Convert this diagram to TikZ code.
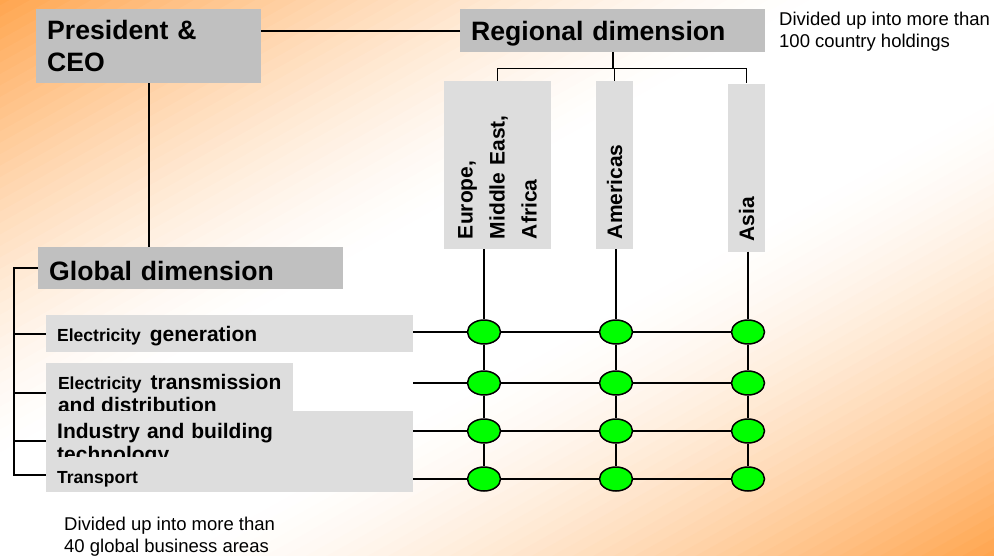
\documentclass[tikz,border=0pt]{standalone}
\usepackage{fontspec}
\setmainfont{Liberation Sans}
\usetikzlibrary{shapes.geometric}
\definecolor{bgorange}{HTML}{FFA54E}
\definecolor{boxdark}{HTML}{C0C0C0}
\definecolor{boxlight}{HTML}{DDDDDD}
\definecolor{hubgreen}{HTML}{00FF00}
\begin{document}
\begin{tikzpicture}[x=1pt,y=-1pt,
    darkbox/.style={fill=boxdark,anchor=north west,inner xsep=11pt,inner ysep=0pt,align=left,font=\bfseries\fontsize{26.6}{32}\selectfont},
    lightbox/.style={fill=boxlight,anchor=north west,inner xsep=11pt,inner ysep=0pt,align=left,font=\bfseries\fontsize{21}{23}\selectfont},
    regionbox/.style={fill=boxlight,rotate=90,inner xsep=10pt,inner ysep=0pt,text width=148pt,align=left,font=\bfseries\fontsize{21}{32}\selectfont},
    hub/.style={ellipse,draw,fill=hubgreen,line width=1.5pt,minimum width=33pt,minimum height=24pt,inner sep=0pt},
    note/.style={anchor=north west,inner sep=0pt,align=left,font=\fontsize{18.5}{22}\selectfont},
    link/.style={line width=1.8pt}]
  \useasboundingbox (0,0) rectangle (994,555);
  % background: orange corners, white band along the other diagonal
  \begin{scope}
    \clip (0,0) rectangle (994,555);
    \foreach \i in {0,...,99}{
      \pgfmathsetmacro{\ta}{-500+10*\i}
      \pgfmathsetmacro{\tb}{\ta+10.6}
      \pgfmathsetmacro{\u}{max(abs(\ta+5)-80,0.01)}
      \pgfmathsetmacro{\p}{min(100,100*(\u/405)^1.5)}
      \fill[bgorange!\p!white] ({497+0.488*\ta-611},{277.5+0.873*\ta+341.6}) -- ({497+0.488*\tb-611},{277.5+0.873*\tb+341.6})
        -- ({497+0.488*\tb+611},{277.5+0.873*\tb-341.6}) -- ({497+0.488*\ta+611},{277.5+0.873*\ta-341.6}) -- cycle;
    }
  \end{scope}

  \node[darkbox,text width=203pt,minimum height=74pt] (pres) at (36,9) {President \&\\CEO};
  \node[darkbox,text width=283pt,minimum height=43pt,text depth=0pt] (reg) at (460,9) {Regional dimension};
  \node[darkbox,text width=283pt,minimum height=42pt,text depth=0pt,text height=24pt] (glob) at (38,247) {Global dimension};
  \node[note] (regnote) at (779,12) {Divided up into more than\\100 country holdings};
  \node[note] (globnote) at (64,517) {Divided up into more than\\40 global business areas};

  \node[regionbox,minimum height=107pt] (emea) at (497.5,165) {Europe,\\Middle East,\\Africa};
  \node[regionbox,minimum height=37pt] (amer) at (614.5,165) {Americas};
  \node[regionbox,minimum height=37pt] (asia) at (746.5,167.5) {Asia};

  \node[lightbox,text width=345pt,minimum height=37pt,text depth=0pt] (b1) at (46,315) {{\fontsize{17.5}{23}\selectfont Electricity}\hspace{9pt}generation};
  \node[lightbox,minimum width=247pt,minimum height=60pt] (b2) at (46,363) {{\fontsize{17.5}{23}\selectfont Electricity}\hspace{9pt}transmission\\and distribution};
  \node[lightbox,text width=345pt,minimum height=60pt,text height=23pt] (b3) at (46,411) {Industry and building\\technology};
  \node[lightbox,text width=345pt,minimum height=35pt,text depth=0pt,text height=17pt] (b4) at (46,457) {{\fontsize{17.5}{23}\selectfont Transport}};

  \foreach \r/\y in {1/332,2/383,3/431,4/479}
    \foreach \c/\x in {1/484,2/616,3/748}
      \node[hub] (h\r\c) at (\x,\y) {};

  \draw[link] (reg.west) -- (reg.west -| pres.east);
  \draw[link] (pres.south) -- (glob.north -| pres.south);
  \draw[link] (reg.south) -- ++(0,16) coordinate (rj);
  \draw[link] (emea.east) |- (rj) -| (asia.east);
  \draw[link] (amer.east) -- (amer.east |- rj);

  \draw[link] (glob.west) -- ++(-24,0) coordinate (gl) |- (b4.west);
  \foreach \b in {b1,b2,b3}
    \draw[link] (gl |- \b.west) -- (\b.west);

  \foreach \c/\reg in {1/emea,2/amer,3/asia}
    \draw[link] (h1\c |- \reg.west) -- (h1\c) -- (h2\c) -- (h3\c) -- (h4\c);
  \foreach \r in {1,2,3,4}
    \draw[link] (b1.east |- h\r1) -- (h\r1) -- (h\r2) -- (h\r3);
\end{tikzpicture}
\end{document}
